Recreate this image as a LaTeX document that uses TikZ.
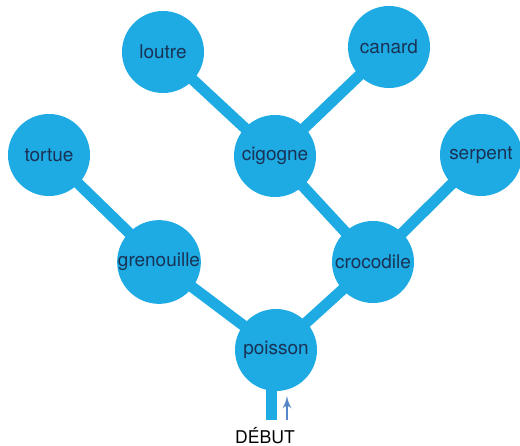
\documentclass[tikz,border=0pt]{standalone}
\usepackage{fontspec}
\setmainfont{TeX Gyre Heros}
\usetikzlibrary{arrows,positioning,backgrounds}
\definecolor{treeblue}{RGB}{30,170,226}
\definecolor{labnavy}{RGB}{25,50,85}
\definecolor{arrowblue}{RGB}{85,135,200}
\begin{document}
\begin{tikzpicture}
[x=0.025cm,y=-0.025cm,
every node/.style={shape=circle,fill=treeblue,inner sep=0pt,minimum size=2.05cm,
  text=labnavy,font=\fontsize{13.5}{14}\selectfont},
lab/.style={fill=none,minimum size=0pt,text=black,font=\fontsize{12.5}{13}\selectfont},
branch/.style={draw=treeblue,line width=0.275cm},
start/.style={>=latex',->,arrowblue,line width=2pt}]
\useasboundingbox (0,0) rectangle (520,446);
%%%%% tree
%% vertices
\node (poisson) at (276,350) {poisson};
\node (grenouille) at (159,262) {grenouille};
\node (crocodile) at (373,262) {crocodile};
\node (tortue) at (49,155) {tortue};
\node (cigogne) at (275,156) {cigogne};
\node (serpent) at (481,155) {serpent};
\node (loutre) at (163,52) {loutre};
\node (canard) at (389,47) {canard};
\coordinate (root) at (271,420);
%% edges
\begin{pgfonlayer}{background}
\draw[branch] (root) -- (271,350);
\draw[branch] (poisson.center) -- (grenouille.center);
\draw[branch] (poisson.center) -- (crocodile.center);
\draw[branch] (grenouille.center) -- (tortue.center);
\draw[branch] (crocodile.center) -- (cigogne.center);
\draw[branch] (crocodile.center) -- (serpent.center);
\draw[branch] (cigogne.center) -- (loutre.center);
\draw[branch] (cigogne.center) -- (canard.center);
\end{pgfonlayer}
%% start
\coordinate (a1) at (287,420);
\coordinate (a2) at (287,396);
\draw[start] (a1) -- (a2);
\node (debut) [lab,shape=rectangle,anchor=north] at (265,427) {DÉBUT};
\end{tikzpicture}
\end{document}
